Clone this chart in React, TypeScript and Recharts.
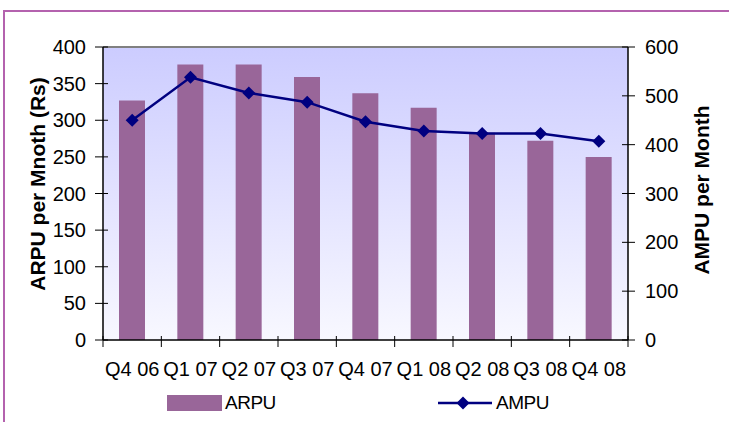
import React from 'react';
import {
    ComposedChart,
    Bar,
    Line,
    XAxis,
    YAxis,
    CartesianGrid,
    ReferenceLine,
} from 'recharts';

const quarters = ['Q4 06', 'Q1 07', 'Q2 07', 'Q3 07', 'Q4 07', 'Q1 08', 'Q2 08', 'Q3 08', 'Q4 08'];
const arpu = [327, 376, 376, 359, 337, 317, 283, 272, 250];
const ampu = [450, 538, 506, 487, 447, 428, 423, 423, 407];
const leftTicks = [0, 50, 100, 150, 200, 250, 300, 350, 400];
const rightTicks = [0, 100, 200, 300, 400, 500, 600];

const data = quarters.map((q, i) => ({ name: q, ARPU: arpu[i], AMPU: ampu[i] }));

const W = 729;
const H = 422;
const PLOT_LEFT = 103;
const PLOT_RIGHT = 628;
const PLOT_TOP = 47;
const AXIS_Y = 340;
const BAND = (PLOT_RIGHT - PLOT_LEFT) / quarters.length;
const FONT = '"Liberation Sans", Arial, sans-serif';
const BAR_COLOR = '#996699';
const LINE_COLOR = '#000080';

const XTick = (props: any) => {
    const { x, index, payload } = props;
    const half = BAND / 2;
    return (
        <g>
            <line x1={x - half} x2={x - half} y1={AXIS_Y - 4} y2={AXIS_Y + 7} stroke='#000' />
            {index === quarters.length - 1 && (
                <line x1={x + half} x2={x + half} y1={AXIS_Y - 4} y2={AXIS_Y + 7} stroke='#000' />
            )}
            <text x={x} y={376} textAnchor='middle' fontSize={20} fontFamily={FONT} fill='#000'>
                {payload.value}
            </text>
        </g>
    );
};

const LeftTick = (props: any) => {
    const { y, payload } = props;
    return (
        <g>
            <line x1={95} x2={108} y1={y} y2={y} stroke='#000' />
            <text x={86} y={y + 7} textAnchor='end' fontSize={20} fontFamily={FONT} fill='#000'>
                {payload.value}
            </text>
        </g>
    );
};

const RightTick = (props: any) => {
    const { y, payload } = props;
    return (
        <g>
            <line x1={622} x2={635} y1={y} y2={y} stroke='#000' />
            <text x={645} y={y + 7} textAnchor='start' fontSize={20} fontFamily={FONT} fill='#000'>
                {payload.value}
            </text>
        </g>
    );
};

const Diamond = (props: any) => {
    const { cx, cy } = props;
    if (cx == null || cy == null) return null;
    const r = 6.5;
    return (
        <polygon
            points={`${cx},${cy - r} ${cx + r},${cy} ${cx},${cy + r} ${cx - r},${cy}`}
            fill={LINE_COLOR}
        />
    );
};

const App: React.FC = () => {
    return (
        <div style={{ position: 'absolute', left: 0, top: 0, width: W, height: H, overflow: 'hidden', background: '#fff' }}>
            <div style={{ position: 'absolute', left: 0, top: 0 }}>
                <ComposedChart
                    width={W}
                    height={H}
                    data={data}
                    margin={{ top: PLOT_TOP, right: 0, bottom: 0, left: 0 }}
                    barCategoryGap={0}
                >
                    <defs>
                        <linearGradient id='plotBg' x1='0' y1='0' x2='0' y2='1'>
                            <stop offset='0%' stopColor='#CCCCFF' />
                            <stop offset='100%' stopColor='#F8F8FF' />
                        </linearGradient>
                    </defs>
                    <CartesianGrid fill='url(#plotBg)' horizontal={false} vertical={false} />
                    <XAxis
                        dataKey='name'
                        height={H - AXIS_Y}
                        interval={0}
                        tickLine={false}
                        axisLine={{ stroke: '#000', strokeWidth: 1.5 }}
                        tick={<XTick />}
                    />
                    <YAxis
                        yAxisId='left'
                        width={PLOT_LEFT}
                        domain={[0, 400]}
                        ticks={leftTicks}
                        interval={0}
                        tickLine={false}
                        axisLine={{ stroke: '#000', strokeWidth: 1.5 }}
                        tick={<LeftTick />}
                        label={{
                            content: () => (
                                <text
                                    x={37}
                                    y={184}
                                    transform='rotate(-90 37 184)'
                                    textAnchor='middle'
                                    dominantBaseline='central'
                                    fontSize={21}
                                    fontWeight='bold'
                                    fontFamily={FONT}
                                    fill='#000'
                                >
                                    ARPU per Mnoth (Rs)
                                </text>
                            ),
                        }}
                    />
                    <YAxis
                        yAxisId='right'
                        orientation='right'
                        width={W - PLOT_RIGHT}
                        domain={[0, 600]}
                        ticks={rightTicks}
                        interval={0}
                        tickLine={false}
                        axisLine={{ stroke: '#000', strokeWidth: 1.5 }}
                        tick={<RightTick />}
                        label={{
                            content: () => (
                                <text
                                    x={701}
                                    y={190}
                                    transform='rotate(-90 701 190)'
                                    textAnchor='middle'
                                    dominantBaseline='central'
                                    fontSize={21}
                                    fontWeight='bold'
                                    fontFamily={FONT}
                                    fill='#000'
                                >
                                    AMPU per Month
                                </text>
                            ),
                        }}
                    />
                    <ReferenceLine yAxisId='left' y={400} stroke='#808080' strokeWidth={2} />
                    <Bar yAxisId='left' dataKey='ARPU' fill={BAR_COLOR} barSize={26} isAnimationActive={false} />
                    <Line
                        yAxisId='right'
                        dataKey='AMPU'
                        type='linear'
                        stroke={LINE_COLOR}
                        strokeWidth={2.5}
                        dot={<Diamond />}
                        activeDot={false}
                        isAnimationActive={false}
                    />
                </ComposedChart>
            </div>
            <div style={{ position: 'absolute', left: 167, top: 395, width: 55, height: 16, background: BAR_COLOR }} />
            <div style={{ position: 'absolute', left: 225, top: 390, fontFamily: FONT, fontSize: 19, lineHeight: '26px', letterSpacing: -0.5 }}>
                ARPU
            </div>
            <svg style={{ position: 'absolute', left: 436, top: 395 }} width={58} height={16}>
                <line x1={2} x2={56} y1={8} y2={8} stroke={LINE_COLOR} strokeWidth={2.5} />
                <polygon points='27,1.5 33.5,8 27,14.5 20.5,8' fill={LINE_COLOR} />
            </svg>
            <div style={{ position: 'absolute', left: 496, top: 390, fontFamily: FONT, fontSize: 19, lineHeight: '26px', letterSpacing: -0.5 }}>
                AMPU
            </div>
            <div
                style={{
                    position: 'absolute',
                    left: 3,
                    top: 10,
                    width: 800,
                    height: 500,
                    border: '2px solid #B462AE',
                    pointerEvents: 'none',
                }}
            />
        </div>
    );
};

export default App;
